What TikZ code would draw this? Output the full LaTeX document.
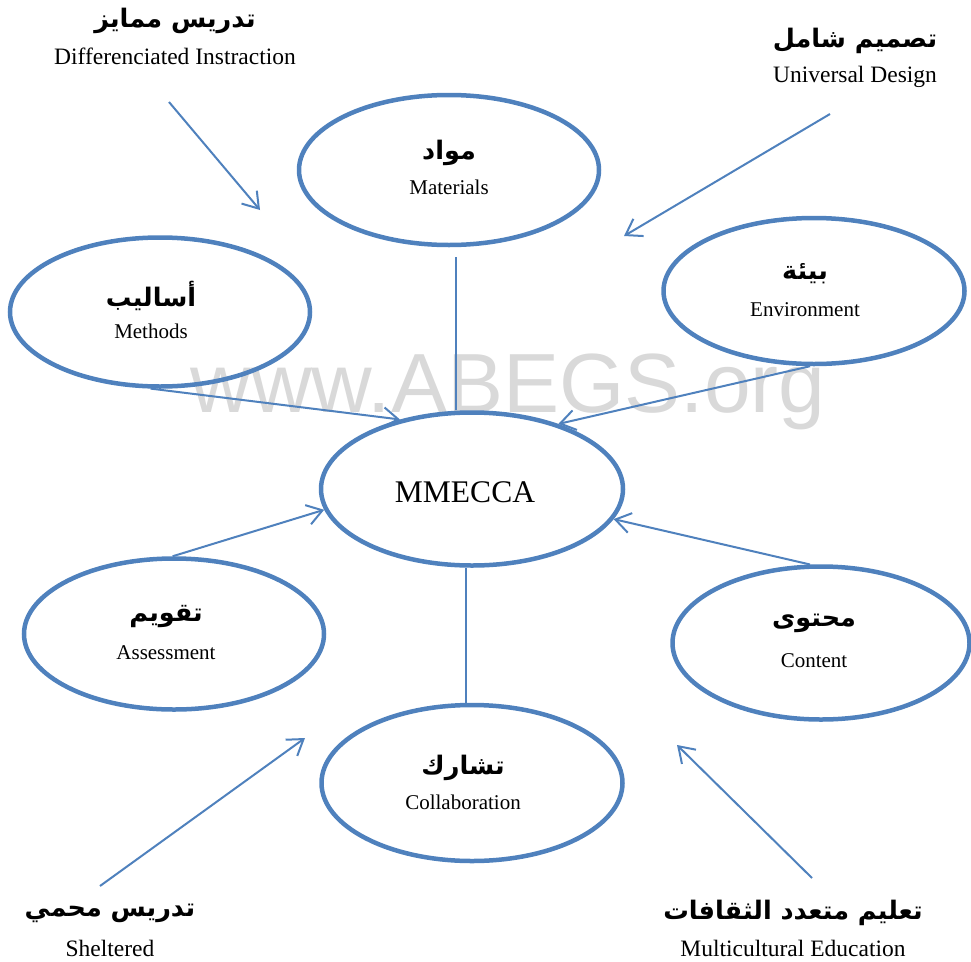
\documentclass[tikz,border=0pt]{standalone}
\usepackage{fontspec}
\setmainfont{Liberation Serif}
\newfontfamily\arabicfont[Script=Arabic]{DejaVu Sans}
\newfontfamily\wmfont{Liberation Sans}
\TeXXeTstate=1
\usetikzlibrary{shapes.geometric,arrows.meta}
\definecolor{ublue}{HTML}{4F81BD}
\definecolor{wmgray}{HTML}{D9D9D9}
\tikzset{
  oval/.style={ellipse, draw=ublue, line width=4.5pt, inner sep=0pt},
  link/.style={draw=ublue, line width=2pt},
  arr/.style={link, -{Straight Barb[length=15pt,width=20pt,line width=2pt]}},
  ar/.style={font=\fontsize{25.5}{30}\selectfont\arabicfont\bfseries, inner sep=0pt},
  en/.style={font=\fontsize{23.5}{28}\selectfont, inner sep=0pt},
  ein/.style={font=\fontsize{21}{25}\selectfont, inner sep=0pt},
}
\newcommand{\AR}[1]{\beginR #1\endR}
\begin{document}
\begin{tikzpicture}[x=1pt,y=-1pt]
\useasboundingbox (0,0) rectangle (971,961);
% watermark
\node[font=\fontsize{84}{90}\selectfont\wmfont, text=wmgray, inner sep=0pt, anchor=base] (wm) at (508,412) {www.ABEGS.org};
% ellipses
\node[oval, minimum width=300pt, minimum height=150pt] (materials) at (449,170) {};
\node[oval, minimum width=300pt, minimum height=149pt] (methods) at (160,312) {};
\node[oval, minimum width=301pt, minimum height=146pt] (env) at (814,291) {};
\node[oval, minimum width=302pt, minimum height=153pt] (mm) at (472,489) {};
\node[oval, minimum width=300pt, minimum height=151pt] (assess) at (174,634) {};
\node[oval, minimum width=297pt, minimum height=153pt] (content) at (821,643) {};
\node[oval, minimum width=301pt, minimum height=156pt] (collab) at (472,783) {};
% texts inside ellipses
\node[ar] (materialsA) at (449,153) {\AR{مواد}};
\node[ein] (materialsE) at (449,187) {Materials};
\node[ar] (methodsA) at (151,296) {\AR{أساليب}};
\node[ein] (methodsE) at (151,331) {Methods};
\node[ar] (envA) at (805,274) {\AR{بيئة}};
\node[ein] (envE) at (805,310) {Environment};
\node[font=\fontsize{31.5}{36}\selectfont, inner sep=0pt] (mmT) at (465,492) {MMECCA};
\node[ar] (assessA) at (166,617) {\AR{تقويم}};
\node[ein] (assessE) at (166,653) {Assessment};
\node[ar] (contentA) at (814,623) {\AR{محتوى}};
\node[ein] (contentE) at (814,661) {Content};
\node[ar] (collabA) at (463,768) {\AR{تشارك}};
\node[ein] (collabE) at (463,802) {Collaboration};
% outer labels
\node[ar] (diffA) at (175,21) {\AR{تدريس ممايز}};
\node[en] (diffE) at (175,56) {Differenciated Instraction};
\node[ar] (udA) at (855,41) {\AR{تصميم شامل}};
\node[en] (udE) at (855,77) {Universal Design};
\node[ar] (shA) at (110,913) {\AR{تدريس محمي}};
\node[en] (shE) at (110,948) {Sheltered};
\node[ar] (mcA) at (793,913) {\AR{تعليم متعدد الثقافات}};
\node[en] (mcE) at (793,948) {Multicultural Education};
% free arrow ends
\coordinate (d1) at (169,102); \coordinate (d2) at (260,210);
\coordinate (u1) at (830,114); \coordinate (u2) at (624,236);
\coordinate (s1) at (100,886); \coordinate (s2) at (305,738);
\coordinate (m1) at (812,878); \coordinate (m2) at (677,745);
\draw[arr] (d1) -- (d2);
\draw[arr] (u1) -- (u2);
\draw[arr] (s1) -- (s2);
\draw[arr] (m1) -- (m2);
% connectors to MMECCA
\draw[link] ([xshift=7pt,yshift=-10pt]materials.south) -- ([xshift=-16pt]mm.north);
\draw[link] ([xshift=-6pt]mm.south) -- ([xshift=-6pt]collab.north);
\draw[arr] (methods.263) -- (mm.136);
\draw[arr] (env.267) -- (mm.37);
\draw[arr] (assess.91) -- (mm.188);
\draw[arr] (content.98) -- (mm.348);
\end{tikzpicture}
\end{document}
